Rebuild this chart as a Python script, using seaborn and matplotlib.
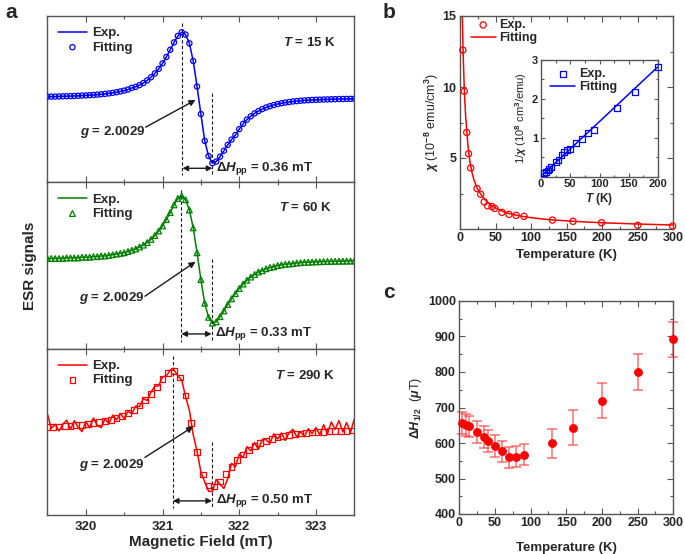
import numpy as np
import matplotlib.pyplot as plt
import seaborn as sns
from matplotlib.ticker import MultipleLocator, FixedLocator

# ---------------- panel a: ESR spectra ----------------
# magnetic field sweep (mT)
field = np.linspace(319.5, 323.5, 81)
field_290_fit = np.linspace(319.5, 323.475, 54)

# signals (arb. units, baseline = 0, peak ~ 1)
esr_15 = [0.015, 0.016, 0.017, 0.019, 0.021, 0.022, 0.024, 0.026, 0.029, 0.032,
          0.035, 0.038, 0.042, 0.047, 0.052, 0.058, 0.065, 0.074, 0.083, 0.095,
          0.108, 0.124, 0.150, 0.165, 0.192, 0.224, 0.264, 0.312, 0.370, 0.440,
          0.524, 0.622, 0.731, 0.844, 0.943, 0.999, 0.964, 0.830, 0.560, 0.170,
          -0.250, -0.660, -0.890, -1.000, -0.975, -0.900, -0.810, -0.720, -0.640, -0.570,
          -0.480, -0.400, -0.335, -0.285, -0.240, -0.205, -0.175, -0.150, -0.130, -0.112,
          -0.097, -0.085, -0.075, -0.066, -0.058, -0.052, -0.047, -0.042, -0.038, -0.035,
          -0.032, -0.030, -0.028, -0.026, -0.024, -0.023, -0.021, -0.020, -0.019, -0.018,
          -0.017]

esr_60 = [0.02, 0.02, 0.02, 0.02, 0.02, 0.03, 0.03, 0.03, 0.03, 0.04,
          0.04, 0.04, 0.05, 0.05, 0.06, 0.06, 0.07, 0.08, 0.09, 0.10,
          0.11, 0.13, 0.15, 0.17, 0.20, 0.23, 0.27, 0.32, 0.38, 0.45,
          0.53, 0.63, 0.74, 0.86, 0.96, 1.00, 0.94, 0.78, 0.50, 0.11,
          -0.31, -0.68, -0.90, -0.99, -0.97, -0.89, -0.80, -0.70, -0.61, -0.53,
          -0.45, -0.38, -0.32, -0.27, -0.23, -0.19, -0.17, -0.14, -0.12, -0.11,
          -0.09, -0.08, -0.07, -0.065, -0.06, -0.05, -0.045, -0.04, -0.038, -0.035,
          -0.032, -0.03, -0.028, -0.026, -0.025, -0.023, -0.022, -0.021, -0.02, -0.019,
          -0.018]

esr_290_exp = [0.255, 0.008, 0.081, -0.035, 0.078, 0.152, -0.003, 0.142, 0.028, -0.046,
               0.131, 0.020, 0.189, 0.060, 0.022, 0.175, 0.091, 0.239, 0.160, 0.264,
               0.182, 0.305, 0.262, 0.396, 0.386, 0.524, 0.490, 0.635, 0.736, 0.743,
               0.898, 0.914, 1.017, 1.017, 0.913, 0.846, 0.558, 0.324, -0.100, -0.383,
               -0.740, -0.912, -1.074, -1.080, -0.870, -0.956, -1.025, -0.858, -0.593, -0.654,
               -0.433, -0.490, -0.305, -0.378, -0.237, -0.351, -0.180, -0.184, -0.251, -0.082,
               -0.174, -0.070, -0.197, -0.065, -0.005, -0.136, -0.048, -0.132, 0.005, -0.080,
               0.025, -0.101, 0.073, -0.083, 0.120, -0.007, 0.146, -0.052, 0.110, -0.058,
               0.174]

esr_290_fit = [0.035, 0.040, 0.045, 0.050, 0.057, 0.065, 0.074, 0.086, 0.099, 0.116,
               0.135, 0.160, 0.190, 0.228, 0.275, 0.333, 0.406, 0.497, 0.605, 0.729,
               0.858, 0.965, 0.997, 0.886, 0.578, 0.104, -0.403, -0.787, -0.974, -0.990,
               -0.906, -0.781, -0.653, -0.537, -0.440, -0.361, -0.297, -0.245, -0.204, -0.171,
               -0.144, -0.124, -0.105, -0.091, -0.078, -0.068, -0.060, -0.053, -0.047, -0.041,
               -0.037, -0.033, -0.030, -0.027]

# ---------------- panel b: susceptibility ----------------
temp_b = [4, 6, 9.5, 12, 15, 24, 29, 34, 39, 45, 49, 59, 69, 79, 90, 130, 159, 199, 250, 299]
chi_b = [12.6, 9.7, 6.8, 5.3, 4.3, 2.85, 2.45, 1.91, 1.63, 1.58, 1.45, 1.17, 1.03, 0.96, 0.89,
         0.63, 0.54, 0.44, 0.26, 0.21]
temp_b_fit = [3.3, 3.6, 4, 4.5, 5, 6, 7, 8, 9.5, 11, 12, 13.5, 15, 17, 20, 24, 28, 32, 36, 40,
              45, 50, 60, 70, 80, 90, 100, 115, 130, 160, 200, 250, 300]
chi_b_fit = [15.0, 14.2, 13.3, 12.3, 11.4, 9.9, 8.8, 7.9, 6.9, 6.0, 5.5, 4.9, 4.45, 3.95, 3.4,
             2.9, 2.55, 2.25, 2.02, 1.83, 1.64, 1.48, 1.24, 1.08, 0.96, 0.87, 0.80, 0.71, 0.64,
             0.54, 0.44, 0.35, 0.28]

# inset: 1/chi
temp_inv = [5, 8, 12, 14, 17, 25, 30, 35, 40, 45, 50, 60, 70, 80, 90, 130, 160, 200]
inv_chi = [0.09, 0.12, 0.16, 0.20, 0.24, 0.38, 0.43, 0.56, 0.64, 0.68, 0.72, 0.86, 0.98, 1.12,
           1.20, 1.77, 2.17, 2.83]
temp_inv_fit = [3, 203]
inv_chi_fit = [0.05, 2.87]

# ---------------- panel c: linewidth ----------------
temp_c = [4, 9, 13, 25, 35, 40, 50, 60, 70, 80, 90, 130, 160, 200, 250, 300]
dh_c = [655, 651, 647, 631, 617, 606, 591, 577, 560, 561, 567, 599, 643, 719, 799, 892]
dh_err = [31, 30, 30, 30, 30, 30, 31, 30, 30, 30, 30, 40, 50, 49, 51, 50]

sns.set_theme(style="ticks")
plt.rcParams['font.family'] = ['Liberation Sans', 'DejaVu Sans']
plt.rcParams['mathtext.fontset'] = 'custom'
plt.rcParams['mathtext.rm'] = 'Liberation Sans:bold'
plt.rcParams['mathtext.bf'] = 'Liberation Sans:bold'
plt.rcParams['mathtext.it'] = 'Liberation Sans:italic:bold'
plt.rcParams['legend.scatterpoints'] = 1

W, H = 685, 554
fig = plt.figure(figsize=(W / 100, H / 100), dpi=100)


def px_axes(l, t, r, b):
    return fig.add_axes([l / W, 1 - b / H, (r - l) / W, (b - t) / H])


FRAME = '#555555'


def frame(ax, major=4, minor=2.2):
    for s in ax.spines.values():
        s.set_color(FRAME)
        s.set_linewidth(1.0)
    ax.tick_params(which='both', direction='in', top=True, right=True,
                   color=FRAME, width=0.8)
    ax.tick_params(which='major', length=major)
    ax.tick_params(which='minor', length=minor)


def esr_panel(ax, y_line, x_fit, y_fit, color, marker, msize, ylim,
              temp_label, dash_l, dash_r, arrow_y, dh_label, g_xy, g_from, g_to, t_xy,
              show_x=False):
    sns.lineplot(x=field, y=y_line, ax=ax, color=color, lw=1.1, sort=False,
                 estimator=None, label='Exp.')
    sns.scatterplot(x=x_fit, y=y_fit, ax=ax, marker=marker, s=msize, color=color,
                    facecolor='none', edgecolor=color, linewidth=0.9, label='Fitting',
                    zorder=3)
    ax.set_xlim(319.49, 323.5)
    ax.set_ylim(*ylim)
    frame(ax)
    ax.set_yticks([])
    ax.xaxis.set_major_locator(MultipleLocator(1))
    ax.xaxis.set_minor_locator(MultipleLocator(0.5))
    ax.tick_params(axis='y', which='both', left=False, right=False)
    if show_x:
        ax.tick_params(axis='x', labelsize=9.5, pad=4)
        for lab in ax.get_xticklabels():
            lab.set_fontweight('bold')
    else:
        ax.tick_params(axis='x', labelbottom=False)
    ax.set_xlabel('')
    ax.set_ylabel('')

    ax.plot([dash_l[0]] * 2, dash_l[1:], ls=(0, (3, 2)), color='k', lw=0.8)
    ax.plot([dash_r[0]] * 2, dash_r[1:], ls=(0, (3, 2)), color='k', lw=0.8)
    ax.annotate('', xy=(dash_r[0], arrow_y), xytext=(dash_l[0], arrow_y),
                arrowprops=dict(arrowstyle='<|-|>', color='k', lw=1.0,
                                mutation_scale=8, shrinkA=0, shrinkB=0))
    ax.text(dash_r[0] + 0.05, arrow_y, dh_label, fontsize=9.5, fontweight='bold',
            ha='left', va='center')
    ax.text(g_xy[0], g_xy[1], r'$g$ = 2.0029', fontsize=9.5, fontweight='bold',
            ha='right', va='center')
    ax.annotate('', xy=g_to, xytext=g_from,
                arrowprops=dict(arrowstyle='-|>', color='k', lw=1.0,
                                mutation_scale=9, shrinkA=0, shrinkB=0))
    ax.text(t_xy[0], t_xy[1], temp_label, fontsize=9.5, fontweight='bold',
            ha='right', va='center')
    ax.legend(loc='upper left', frameon=False, prop=dict(weight='bold', size=9.5),
              handlelength=2.2, handletextpad=0.4, labelspacing=0.15,
              borderaxespad=0.55, borderpad=0.3)


ax1 = px_axes(46.7, 16, 354.3, 182.3)
ax2 = px_axes(46.7, 182.3, 354.3, 348.7)
ax3 = px_axes(46.7, 348.7, 354.3, 515)

esr_panel(ax1, esr_15, field, esr_15, '#0000ff', 'o', 14, (-1.292, 1.247),
          r'$T$ = 15 K', (321.26, 1.14, -1.18), (321.65, 0.07, -1.18), -1.078,
          r'$\Delta H_{\mathbf{pp}}$ = 0.36 mT', (320.77, -0.524),
          (320.78, -0.45), (321.43, -0.035), (323.26, 0.835))
esr_panel(ax2, esr_60, field, esr_60, '#008000', '^', 17, (-1.391, 1.213),
          r'$T$ = 60 K', (321.245, 1.10, -1.28), (321.64, 0.01, -1.28), -1.16,
          r'$\Delta H_{\mathbf{pp}}$ = 0.33 mT', (320.76, -0.60),
          (320.77, -0.57), (321.43, -0.03), (323.21, 0.82))
esr_panel(ax3, esr_290_exp, field_290_fit, esr_290_fit, '#ff0000', 's', 17, (-1.483, 1.384),
          r'$T$ = 290 K', (321.135, 1.25, -1.37), (321.645, -0.22, -1.37), -1.24,
          r'$\Delta H_{\mathbf{pp}}$ = 0.50 mT', (320.76, -0.62),
          (320.77, -0.49), (321.40, 0.04), (323.26, 0.93), show_x=True)
ax3.set_xlabel('Magnetic Field (mT)', fontsize=11, fontweight='bold', labelpad=2)
fig.text(30 / W, 1 - 266 / H, 'ESR signals', rotation=90, fontsize=11,
         fontweight='bold', ha='center', va='center')

# ---------------- panel b ----------------
axb = px_axes(460, 16, 673.3, 229)
sns.scatterplot(x=temp_b, y=chi_b, ax=axb, marker='o', s=20, color='#ff0000',
                facecolor='none', edgecolor='#ff0000', linewidth=0.9, label='Exp.',
                zorder=3, clip_on=False)
sns.lineplot(x=temp_b_fit, y=chi_b_fit, ax=axb, color='#ff0000', lw=1.1, sort=False,
             estimator=None, label='Fitting')
axb.set_xlim(0, 300)
axb.set_ylim(0, 15)
frame(axb)
axb.xaxis.set_major_locator(MultipleLocator(50))
axb.xaxis.set_minor_locator(MultipleLocator(25))
axb.yaxis.set_major_locator(FixedLocator([5, 10, 15]))
axb.yaxis.set_minor_locator(FixedLocator([2.5, 7.5, 12.5]))
axb.tick_params(labelsize=9, pad=2.5)
for lab in axb.get_xticklabels() + axb.get_yticklabels():
    lab.set_fontweight('bold')
axb.set_xlabel('Temperature (K)', fontsize=9.5, fontweight='bold', labelpad=3)
axb.set_ylabel(r'$\chi$ (10$^{-8}$ emu/cm$^{3}$)', fontsize=9, labelpad=1)
axb.legend(loc='upper left', bbox_to_anchor=(0.05, 0.985), frameon=False,
           prop=dict(weight='bold', size=9), handlelength=2.0, handletextpad=0.3,
           labelspacing=0.1, borderaxespad=0, borderpad=0)

# inset
axi = px_axes(541, 60, 658, 176.7)
sns.scatterplot(x=temp_inv, y=inv_chi, ax=axi, marker='s', s=18, color='#0000ff',
                facecolor='none', edgecolor='#0000ff', linewidth=0.9, label='Exp.',
                zorder=3, clip_on=False)
sns.lineplot(x=temp_inv_fit, y=inv_chi_fit, ax=axi, color='#0000ff', lw=1.1,
             sort=False, estimator=None, label='Fitting')
axi.set_xlim(0, 200)
axi.set_ylim(0, 3)
frame(axi, major=3, minor=1.8)
axi.xaxis.set_major_locator(MultipleLocator(50))
axi.xaxis.set_minor_locator(MultipleLocator(25))
axi.yaxis.set_major_locator(FixedLocator([1, 2, 3]))
axi.yaxis.set_minor_locator(FixedLocator([0.5, 1.5, 2.5]))
axi.tick_params(labelsize=8, pad=2)
for lab in axi.get_xticklabels() + axi.get_yticklabels():
    lab.set_fontweight('bold')
axi.set_xlabel(r'$T$ (K)', fontsize=8.5, fontweight='bold', labelpad=1)
axi.set_ylabel(r'1/$\chi$ (10$^{8}$ cm$^{3}$/emu)', fontsize=8, labelpad=2)
axi.legend(loc='upper left', bbox_to_anchor=(0.08, 0.93), frameon=False,
           prop=dict(weight='bold', size=9), handlelength=2.0, handletextpad=0.3,
           labelspacing=0.1, borderaxespad=0, borderpad=0)

# ---------------- panel c ----------------
axc = px_axes(459.3, 301, 673.3, 514)
axc.errorbar(temp_c, dh_c, yerr=dh_err, fmt='none', ecolor='#ff4040', alpha=0.75,
             elinewidth=1.1, capsize=3.5, capthick=1.1, clip_on=False)
sns.scatterplot(x=temp_c, y=dh_c, ax=axc, marker='o', s=34, color='#ff0000',
                edgecolor='#ff0000', linewidth=0.5, zorder=3, clip_on=False)
axc.set_xlim(0, 300)
axc.set_ylim(400, 1000)
frame(axc)
axc.xaxis.set_major_locator(MultipleLocator(50))
axc.xaxis.set_minor_locator(MultipleLocator(25))
axc.yaxis.set_major_locator(MultipleLocator(100))
axc.yaxis.set_minor_locator(MultipleLocator(50))
axc.tick_params(labelsize=9, pad=2.5)
for lab in axc.get_xticklabels() + axc.get_yticklabels():
    lab.set_fontweight('bold')
axc.set_xlabel('Temperature (K)', fontsize=9.5, fontweight='bold', labelpad=9)
axc.set_ylabel(r'$\Delta$$\mathit{H}_{1/2}$  ($\mu$T)', fontsize=9, labelpad=3)

# panel letters
fig.text(11 / W, 1 - 13 / H, 'a', fontsize=15, fontweight='bold', ha='center', va='center')
fig.text(389 / W, 1 - 12 / H, 'b', fontsize=15, fontweight='bold', ha='center', va='center')
fig.text(389 / W, 1 - 293 / H, 'c', fontsize=15, fontweight='bold', ha='center', va='center')

fig.savefig('out.png', dpi=100)
